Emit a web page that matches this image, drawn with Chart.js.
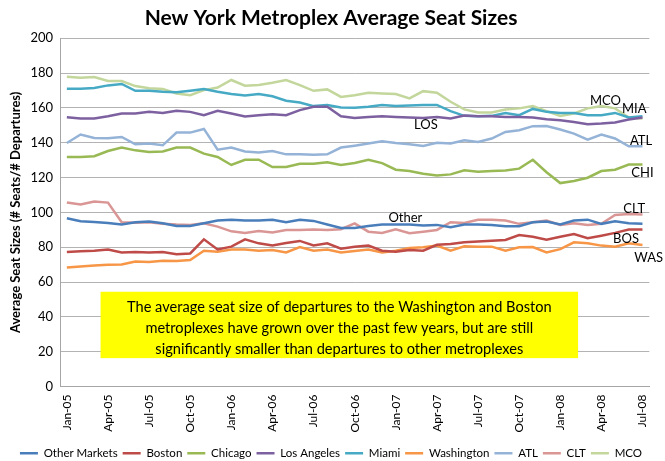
<!DOCTYPE html>
<html>
<head>
<meta charset="utf-8">
<script src="https://cdn.jsdelivr.net/npm/chart.js@4.4.1/dist/chart.umd.min.js"></script>
<style>
  html, body { margin: 0; padding: 0; background: #fff; }
  #wrap { width: 665px; height: 461px; }
</style>
</head>
<body>
<div id="wrap"><canvas id="seatChart" width="665" height="461"></canvas></div>
<script>
// months, Jan-05 .. Jul-08
const months = [
  'Jan-05', 'Feb-05', 'Mar-05', 'Apr-05', 'May-05', 'Jun-05', 'Jul-05', 'Aug-05', 'Sep-05', 'Oct-05', 'Nov-05', 'Dec-05',
  'Jan-06', 'Feb-06', 'Mar-06', 'Apr-06', 'May-06', 'Jun-06', 'Jul-06', 'Aug-06', 'Sep-06', 'Oct-06', 'Nov-06', 'Dec-06',
  'Jan-07', 'Feb-07', 'Mar-07', 'Apr-07', 'May-07', 'Jun-07', 'Jul-07', 'Aug-07', 'Sep-07', 'Oct-07', 'Nov-07', 'Dec-07',
  'Jan-08', 'Feb-08', 'Mar-08', 'Apr-08', 'May-08', 'Jun-08', 'Jul-08'
];

// average seats per departure
const otherMarkets = [96.6, 94.9, 94.5, 93.9, 93.0, 94.3, 94.7, 93.7, 92.2, 92.2, 93.7, 95.3,
  95.7, 95.3, 95.3, 95.8, 94.3, 95.7, 95.1, 93.0, 91.0, 91.0, 92.2, 93.0,
  93.0, 93.0, 92.4, 92.8, 91.4, 93.0, 93.0, 92.8, 92.0, 92.0, 94.3, 94.7,
  93.0, 95.3, 95.8, 93.4, 94.9, 93.7, 93.4];
const boston = [77.2, 77.6, 78.0, 78.6, 77.0, 77.2, 77.0, 77.2, 75.9, 76.4, 84.5, 78.7,
  80.3, 84.5, 82.2, 81.0, 82.4, 83.6, 81.0, 82.2, 79.1, 80.3, 80.9, 78.0,
  77.4, 78.4, 78.0, 81.4, 81.8, 82.8, 83.2, 83.7, 84.1, 87.0, 86.0, 84.3,
  86.0, 87.6, 85.1, 86.6, 88.2, 90.1, 90.1];
const chicago = [131.8, 131.8, 132.2, 135.2, 137.2, 135.6, 134.7, 135.0, 137.2, 137.2, 133.7, 131.8,
  127.2, 130.2, 130.2, 126.0, 126.0, 127.9, 127.9, 128.7, 127.2, 128.3, 130.2, 128.3,
  124.5, 123.7, 122.2, 121.2, 121.8, 124.1, 123.3, 123.7, 124.1, 125.1, 130.2, 123.0,
  116.8, 118.0, 119.9, 123.7, 124.5, 127.5, 127.5];
const losAngeles = [154.6, 153.9, 153.9, 155.2, 156.8, 156.8, 157.7, 157.1, 158.3, 157.7, 155.8, 158.3,
  156.8, 155.0, 155.8, 156.4, 155.8, 158.7, 160.6, 160.6, 155.2, 154.2, 154.8, 155.2,
  154.8, 154.5, 154.2, 154.8, 153.9, 155.6, 155.2, 155.2, 154.8, 154.8, 154.5, 153.5,
  152.9, 151.9, 150.6, 151.0, 151.6, 153.3, 154.5];
const miami = [171.0, 171.0, 171.4, 172.9, 173.7, 169.8, 169.8, 169.2, 168.9, 169.8, 170.8, 169.2,
  167.9, 167.1, 167.9, 166.7, 164.1, 163.1, 161.0, 161.6, 160.2, 160.0, 160.6, 161.7,
  161.0, 161.4, 161.6, 161.7, 158.1, 155.4, 155.2, 155.4, 157.1, 155.8, 159.4, 157.7,
  157.1, 157.1, 155.8, 155.8, 157.1, 154.5, 155.2];
const washington = [68.4, 68.9, 69.5, 69.9, 70.1, 71.8, 71.5, 72.2, 72.0, 72.6, 78.0, 77.4,
  78.6, 78.6, 78.0, 78.4, 77.0, 80.1, 78.0, 78.7, 77.0, 77.8, 78.6, 77.0,
  78.0, 79.5, 79.9, 80.9, 78.0, 80.5, 80.3, 80.3, 78.0, 79.9, 80.1, 77.0,
  78.9, 82.8, 82.2, 80.9, 80.3, 82.2, 81.2];
const atl = [139.8, 144.7, 142.7, 142.5, 143.3, 139.1, 139.5, 138.5, 145.8, 145.8, 147.9, 136.0,
  137.2, 135.0, 134.3, 135.2, 133.3, 133.3, 133.1, 133.3, 137.2, 138.3, 139.5, 140.8,
  139.8, 139.1, 138.1, 140.0, 139.5, 141.4, 140.4, 142.4, 146.2, 147.2, 149.5, 149.6,
  147.6, 145.2, 141.8, 144.7, 142.4, 137.9, 137.9];
const clt = [105.6, 104.5, 106.2, 105.6, 94.3, 94.1, 94.3, 93.4, 93.0, 92.8, 93.7, 91.8,
  89.1, 88.2, 89.3, 88.5, 89.9, 89.9, 90.1, 89.9, 90.3, 93.7, 88.9, 88.2,
  90.3, 88.0, 88.9, 89.9, 94.3, 93.9, 95.8, 95.7, 95.3, 93.4, 94.3, 95.3,
  92.8, 93.7, 92.8, 93.4, 98.5, 99.1, 98.7];
const mco = [177.9, 177.3, 177.7, 175.4, 175.4, 172.5, 171.2, 170.8, 168.3, 167.3, 170.2, 171.7,
  176.0, 172.7, 173.1, 174.4, 176.0, 173.1, 169.8, 170.6, 166.3, 167.3, 168.7, 168.3,
  167.9, 165.4, 169.6, 168.7, 163.5, 159.1, 157.3, 157.3, 159.1, 159.7, 161.0, 158.1,
  155.4, 156.8, 159.7, 161.0, 159.7, 154.5, 153.9];

const seriesNames = ['Other Markets', 'Boston', 'Chicago', 'Los Angeles', 'Miami', 'Washington', 'ATL', 'CLT', 'MCO'];
const seriesData = [otherMarkets, boston, chicago, losAngeles, miami, washington, atl, clt, mco];
const seriesColors = ['#4a7ebb', '#be4b48', '#98b954', '#7d60a0', '#46aac5', '#f79646', '#95b3d7', '#d99694', '#c3d69b'];

// short names written next to the lines (month index, value)
const lineTags = [
  { text: 'MCO', at: 39.3, val: 163.9, align: 'center' },
  { text: 'MIA', at: 41.4, val: 159.3, align: 'center' },
  { text: 'LOS', at: 26.2, val: 150.0, align: 'center' },
  { text: 'ATL', at: 41.9, val: 140.8, align: 'center' },
  { text: 'CHI', at: 42.0, val: 122.9, align: 'center' },
  { text: 'CLT', at: 41.4, val: 102.2, align: 'center' },
  { text: 'Other', at: 24.7, val: 97.0, align: 'center' },
  { text: 'BOS', at: 40.8, val: 84.9, align: 'center' },
  { text: 'WAS', at: 41.4, val: 73.9, align: 'left' }
];

const noteLines = [
  'The average seat size of departures to the Washington and Boston',
  'metroplexes have grown over the past few years, but are still',
  'significantly smaller than departures to other metroplexes'
];

const FONT = 'Lato, "Open Sans", sans-serif';

const notesPlugin = {
  id: 'notes',
  afterDraw(chart) {
    const ctx = chart.ctx;
    const xs = chart.scales.x, ys = chart.scales.y;
    ctx.save();
    // yellow call-out box
    const x0 = xs.getPixelForValue(2.46), x1 = xs.getPixelForValue(37.3);
    const y0 = ys.getPixelForValue(54.4), y1 = ys.getPixelForValue(16.3);
    ctx.fillStyle = '#ffff00';
    ctx.fillRect(x0, y0, x1 - x0, y1 - y0);
    ctx.fillStyle = '#000';
    ctx.font = '14.6px ' + FONT;
    ctx.textAlign = 'center';
    ctx.textBaseline = 'middle';
    const cx = (x0 + x1) / 2;
    noteLines.forEach((t, i) => ctx.fillText(t, cx, y0 + 16 + i * 20.8));
    // series tags
    ctx.font = '13px ' + FONT;
    lineTags.forEach(tag => {
      ctx.textAlign = tag.align;
      ctx.fillText(tag.text, xs.getPixelForValue(tag.at), ys.getPixelForValue(tag.val));
    });
    ctx.restore();
  }
};

new Chart(document.getElementById('seatChart').getContext('2d'), {
  type: 'line',
  data: {
    labels: months,
    datasets: seriesNames.map((name, i) => ({
      label: name,
      data: seriesData[i],
      borderColor: seriesColors[i],
      backgroundColor: seriesColors[i],
      borderWidth: 2.5,
      pointRadius: 0,
      tension: 0,
      fill: false
    }))
  },
  options: {
    responsive: false,
    animation: false,
    devicePixelRatio: 1,
    layout: { padding: { left: 8, right: 11, top: 0, bottom: -8 } },
    plugins: {
      title: {
        display: true,
        text: 'New York Metroplex Average Seat Sizes',
        color: '#000',
        font: { family: FONT, size: 21, weight: 'bold' },
        padding: { top: 6, bottom: 7 }
      },
      legend: {
        position: 'bottom',
        labels: {
          color: '#000',
          font: { family: FONT, size: 11.5 },
          usePointStyle: true,
          pointStyle: 'line',
          pointStyleWidth: 18,
          boxHeight: 10,
          padding: 5
        }
      },
      tooltip: { enabled: false }
    },
    scales: {
      x: {
        offset: true,
        grid: { display: false, drawTicks: false },
        border: { color: '#a6a6a6' },
        ticks: {
          autoSkip: false,
          maxRotation: 90,
          minRotation: 90,
          padding: 8,
          color: '#000',
          font: { family: FONT, size: 12 },
          callback: (v, i) => (i % 3 === 0 ? months[i] : '')
        },
        afterFit: s => { s.height = 56; }
      },
      y: {
        min: 0,
        max: 200,
        ticks: { stepSize: 20, padding: 7, color: '#000', font: { family: FONT, size: 13 } },
        grid: { color: '#b3b3b3', drawTicks: false },
        border: { color: '#a6a6a6' },
        title: {
          display: true,
          text: 'Average Seat Sizes (# Seats/# Departures)',
          color: '#000',
          font: { family: FONT, size: 13, weight: 'bold' },
          padding: { top: 0, bottom: 2 }
        },
        afterFit: s => { s.width = 52; }
      }
    }
  },
  plugins: [notesPlugin]
});
</script>
</body>
</html>
